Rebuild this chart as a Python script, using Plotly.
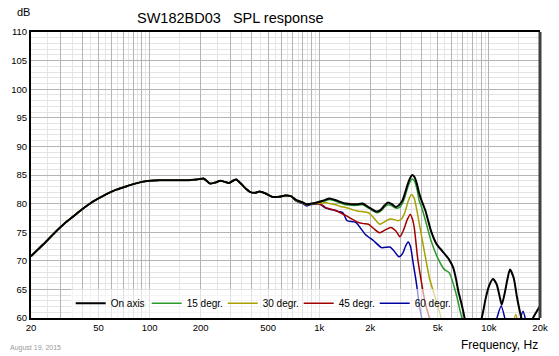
import plotly.graph_objects as go

# ---- data ----
# shared low-frequency part (all curves coincide)
freq_low = [20, 22, 25, 28, 32, 36, 40, 45, 50, 56, 63, 71, 80, 90, 100, 115, 130, 150, 170, 190,
            208, 227, 245, 261, 278, 293, 310, 324, 345, 370, 393, 420, 444, 480, 527, 580, 630, 680]
spl_low = [70.8, 72.0, 73.6, 75.1, 76.7, 77.9, 79.0, 80.1, 80.9, 81.7, 82.4, 82.9, 83.4, 83.8, 84.0, 84.1,
           84.1, 84.1, 84.1, 84.2, 84.4, 83.5, 83.7, 84.0, 83.8, 83.6, 84.0, 84.2, 83.5, 82.6, 82.0, 81.9,
           82.1, 81.8, 81.2, 81.2, 81.4, 81.3]

freq_on = [734, 800, 843, 900, 968, 1050, 1092, 1150, 1250, 1330, 1432, 1550, 1670, 1800, 1950, 2080,
           2180, 2300, 2430, 2540, 2680, 2830, 2990, 3100, 3200, 3280, 3400, 3530, 3650, 3780, 3880,
           4000, 4230, 4560, 4900, 5310, 5800, 6160, 6400, 6600, 6850, 7050, 7300, 7800, 8400, 8800,
           9000, 9300, 9550, 10020, 10560, 11100, 11600, 11900, 12340, 12900, 13300, 14000, 14600,
           15250, 15700, 16500, 17300, 18000, 19000, 20000]
spl_on = [80.6, 80.2, 79.9, 80.0, 80.2, 80.5, 80.7, 80.9, 80.6, 80.3, 80.0, 79.9, 79.9, 80.0, 79.4, 78.9,
          78.6, 78.9, 79.7, 80.2, 79.9, 79.4, 79.9, 80.6, 81.8, 82.9, 84.2, 85.0, 84.6, 83.2, 81.8,
          80.6, 78.7, 75.2, 73.0, 71.7, 70.3, 68.8, 66.8, 64.7, 62.8, 61.2, 59.0, 55.0, 55.0, 57.5,
          59.5, 61.5, 63.3, 65.6, 66.8, 65.9, 63.6, 62.3, 64.1, 67.0, 68.5, 67.0, 63.8,
          61.0, 59.5, 56.0, 56.0, 59.7, 61.0, 62.1]

freq_15 = [734, 800, 843, 900, 968, 1050, 1092, 1150, 1250, 1330, 1432, 1550, 1670, 1800, 1950, 2080,
           2180, 2300, 2430, 2540, 2680, 2830, 2990, 3100, 3200, 3280, 3400, 3530, 3650, 3780, 3880,
           4000, 4230, 4560, 4990, 5450, 5840, 6260, 6500, 6770, 6950, 7300, 8000]
spl_15 = [80.6, 80.2, 79.9, 80.0, 80.2, 80.4, 80.5, 80.7, 80.4, 80.1, 79.8, 79.7, 79.7, 79.8, 79.2, 78.7,
          78.4, 78.7, 79.4, 79.8, 79.6, 79.2, 79.4, 80.1, 81.2, 82.3, 83.6, 84.3, 83.9, 82.3, 80.5,
          79.5, 77.0, 73.5, 70.5, 68.5, 67.9, 65.3, 63.5, 61.2, 59.8, 57.0, 52.0]

freq_30 = [734, 800, 843, 900, 968, 1050, 1092, 1150, 1250, 1330, 1432, 1550, 1670, 1800, 1950, 2080,
           2270, 2450, 2610, 2780, 2920, 3050, 3200, 3350, 3490, 3620, 3780, 3880, 4000, 4160, 4460,
           4890, 5240, 5500, 6000, 9000, 13000, 13700, 14400, 15100, 15800]
spl_30 = [80.5, 80.1, 79.8, 79.9, 80.0, 80.1, 80.2, 80.0, 79.8, 79.5, 79.3, 79.0, 78.7, 78.6, 78.4, 77.6,
          76.4, 76.9, 77.3, 77.2, 77.0, 77.3, 78.5, 80.5, 81.6, 81.0, 78.5, 76.6, 74.5, 71.7, 67.0,
          63.0, 60.0, 58.5, 54.0, 50.0, 54.0, 58.0, 60.6, 58.0, 54.0]

freq_45 = [734, 800, 843, 915, 968, 1050, 1092, 1150, 1250, 1330, 1460, 1580, 1700, 1820, 1950, 2100,
           2270, 2450, 2640, 2830, 2990, 3150, 3300, 3440, 3540, 3630, 3720, 3800, 3990, 4230, 4460,
           4700, 5000]
spl_45 = [80.5, 80.1, 79.8, 80.0, 80.0, 79.7, 79.3, 79.1, 78.8, 78.4, 77.8, 77.2, 76.7, 76.5, 76.4, 75.6,
          74.9, 75.4, 75.8, 75.2, 74.2, 75.5, 77.2, 78.1, 77.3, 75.8, 73.0, 70.5, 66.5, 62.4, 60.0,
          57.5, 54.0]

freq_60 = [734, 800, 843, 880, 940, 1010, 1092, 1200, 1300, 1380, 1460, 1640, 1870, 2090, 2330, 2610,
           2780, 2950, 3100, 3220, 3340, 3450, 3560, 3640, 3720, 3800, 3880, 4000, 4200, 5000, 10000,
           10600, 11100, 11800, 12400, 12900, 14600, 15200, 15880, 16500, 17200]
spl_60 = [80.4, 80.0, 79.6, 79.8, 79.9, 79.9, 79.2, 78.9, 78.6, 78.4, 77.0, 76.7, 74.6, 73.5, 72.3, 72.4,
          71.6, 70.7, 71.3, 72.5, 73.3, 72.5, 70.0, 68.2, 66.5, 64.5, 62.4, 60.3, 57.0, 50.0, 52.0,
          57.5, 59.8, 62.1, 60.0, 57.0, 57.0, 59.5, 61.2, 59.5, 56.0]

series_names = ["On axis", "15 degr.", "30 degr.", "45 degr.", "60 degr."]
series_freq = [freq_on, freq_15, freq_30, freq_45, freq_60]
series_spl = [spl_on, spl_15, spl_30, spl_45, spl_60]
series_colors = ["#000000", "#2b9b2b", "#a8a000", "#a00000", "#0000a0"]
series_widths = [2, 1.5, 1.5, 1.5, 1.5]

x_tick_vals = [20, 50, 100, 200, 500, 1000, 2000, 5000, 10000, 20000]
x_tick_text = ["20", "50", "100", "200", "500", "1k", "2k", "5k", "10k", "20k"]

# ---- figure ----
fig = go.Figure()
for i in reversed(range(len(series_names))):
    # low-frequency part shared, then each curve's own part
    lf = [f for f in freq_low if f < series_freq[i][0]]
    ls = spl_low[:len(lf)]
    fig.add_trace(go.Scatter(
        x=lf + series_freq[i], y=ls + series_spl[i], mode="lines", name=series_names[i],
        line=dict(color=series_colors[i], width=series_widths[i], shape="spline", smoothing=0.6),
        hoverinfo="skip"))

# gridline positions
major_grid = []
minor_grid = []
for dec in [10, 100, 1000, 10000]:
    for k in range(1, 10):
        v = k * dec
        if 20 <= v <= 20000:
            major_grid.append(v)
        m = (k + 0.5) * dec
        if 20 <= m <= 20000:
            minor_grid.append(m)
grid_text = [x_tick_text[x_tick_vals.index(v)] if v in x_tick_vals else "" for v in major_grid]

FONT = "Arial, Liberation Sans, sans-serif"

fig.update_layout(
    width=559, height=356,
    margin=dict(l=29, r=11, t=32, b=38),
    paper_bgcolor="white", plot_bgcolor="white",
    font=dict(family=FONT, color="black", size=10),
    showlegend=True,
    legend=dict(orientation="h", traceorder="reversed", x=0.078, y=0.052, xanchor="left",
                yanchor="middle", bgcolor="rgba(255,255,255,0.6)", borderwidth=0,
                font=dict(size=10, family=FONT), entrywidth=31, entrywidthmode="pixels",
                itemwidth=30),
    xaxis=dict(type="log", range=[1.30103, 4.30103], tickmode="array", tickvals=major_grid,
               ticktext=grid_text, showgrid=True, gridcolor="#b4b4b4", gridwidth=1,
               minor=dict(tickvals=minor_grid, showgrid=True, gridcolor="#e4e4e4", gridwidth=1),
               showline=True, linecolor="black", linewidth=2, mirror=True, ticks="",
               tickfont=dict(size=9.5, family=FONT), zeroline=False, fixedrange=True),
    yaxis=dict(range=[60, 110], tickmode="array", tickvals=list(range(60, 111, 5)),
               showgrid=True, gridcolor="#b4b4b4", gridwidth=1,
               minor=dict(dtick=1, showgrid=True, gridcolor="#e4e4e4", gridwidth=1),
               showline=True, linecolor="black", linewidth=2, ticks="",
               tickfont=dict(size=9.5, family=FONT), zeroline=False, fixedrange=True),
    shapes=[dict(type="line", xref="paper", yref="paper", x0=1, x1=1, y0=0, y1=1,
                 line=dict(color="#404040", width=3))],
    annotations=[
        dict(text="SW182BD03\u00a0\u00a0\u00a0SPL response", xref="paper", yref="paper",
             x=0.391, y=1.049, xanchor="center", yanchor="middle", showarrow=False,
             font=dict(size=14.5, family=FONT)),
        dict(text="dB", xref="paper", yref="paper", x=-0.0145, y=1.07, xanchor="center",
             yanchor="middle", showarrow=False, font=dict(size=11, family=FONT)),
        dict(text="Frequency, Hz", xref="paper", yref="paper", x=1.0, y=-0.094, xanchor="right",
             yanchor="middle", showarrow=False, font=dict(size=12, family=FONT)),
        dict(text="August 19, 2015", xref="paper", yref="paper", x=-0.046, y=-0.105,
             xanchor="left", yanchor="middle", showarrow=False,
             font=dict(size=7, family=FONT, color="#9a9a9a")),
    ],
)

fig.write_html("out.html", config={"displayModeBar": False},
               post_script="document.body.style.margin='0';document.body.style.overflow='hidden';")
